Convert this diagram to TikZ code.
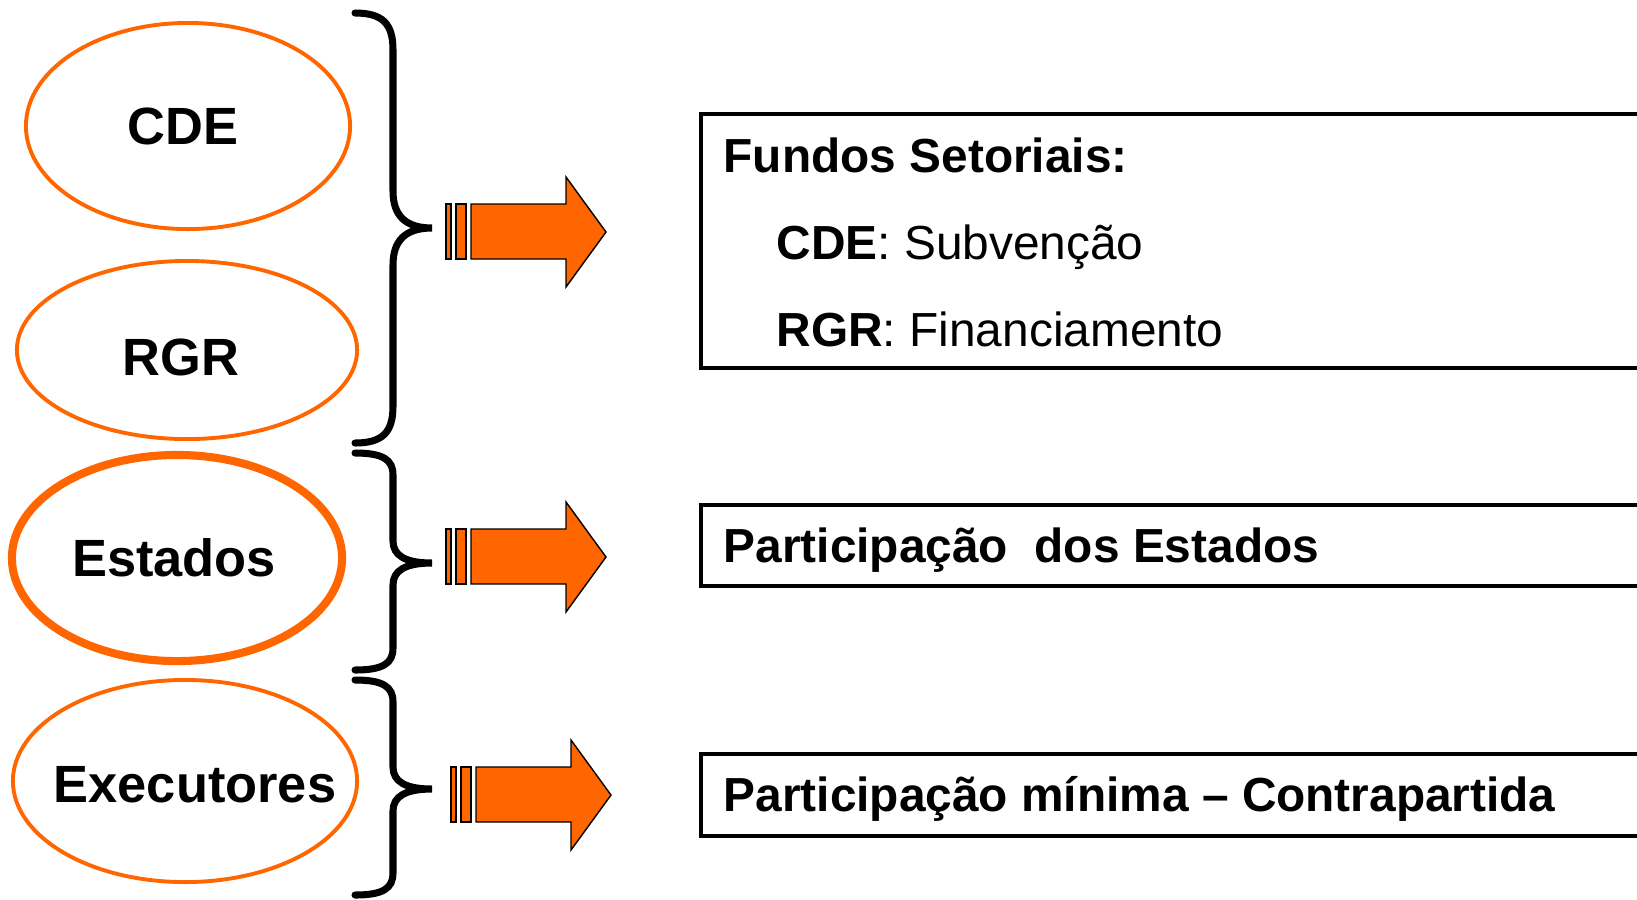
\documentclass[tikz,border=0pt]{standalone}
\usepackage{fontspec}
\setmainfont{Liberation Sans}
\usetikzlibrary{shapes.geometric}
\definecolor{laranja}{HTML}{FF6600}
\tikzset{
  oval/.style={ellipse, draw=laranja, line width=1.1pt, fill=white, inner sep=0pt,
  font=\fontsize{14.9}{18}\selectfont\bfseries},
  caixa/.style={draw=black, line width=1.2pt, rectangle, inner sep=0pt, anchor=north west},
  linha/.style={anchor=base west, inner sep=0pt, font=\fontsize{13.6}{16}\selectfont},
  chave/.style={draw=black, line width=2pt, line cap=round},
  bloco/.style={draw=black, fill=laranja, line width=0.4pt, line join=miter},
}
% text that does not widen the ellipse: x offset, y offset, text
\newcommand{\rotulo}[3]{\raisebox{#2}[\height][\depth]{\makebox[0pt]{\hspace*{#1}#3}}}
% brace: top y, tip y, bottom y, curve length
\newcommand{\chave}[4]{%
  \draw[chave] (355,#1) .. controls (383,#1) and (393,#1+0.3*#4) .. (393,#1+#4)
    -- (393,#2-#4) .. controls (393,#2-0.35*#4) and (405,#2) .. (432,#2)
    .. controls (405,#2) and (393,#2+0.35*#4) .. (393,#2+#4)
    -- (393,#3-#4) .. controls (393,#3-0.3*#4) and (383,#3) .. (355,#3);}
% block arrow with two stripes
\newcommand{\setagrossa}[2]{%
  \begin{scope}[shift={(#1,#2)}]
    \draw[bloco] (0,-28) rectangle (5,27);
    \draw[bloco] (10,-28) rectangle (20,27);
    \draw[bloco] (25,-28) -- (120,-28) -- (120,-55) -- (160,0) -- (120,55)
      -- (120,27) -- (25,27) -- cycle;
  \end{scope}}

\begin{document}
\begin{tikzpicture}[x=0.01cm, y=-0.01cm]
\useasboundingbox (0,0) rectangle (1637,899);

% Sources
\node[oval, minimum width=3.24cm, minimum height=2.06cm] (cde) at (188,126) {\rotulo{-0.1cm}{0pt}{CDE}};
\node[oval, minimum width=3.40cm, minimum height=1.78cm] (rgr) at (187,350) {\rotulo{-0.12cm}{-0.07cm}{RGR}};
\node[oval, line width=2.3pt, minimum width=3.30cm, minimum height=2.06cm] (estados) at (177,558) {\rotulo{-0.06cm}{0pt}{Estados}};
\node[oval, minimum width=3.44cm, minimum height=2.02cm] (executores) at (185,781) {\rotulo{0.2cm}{-0.04cm}{Executores}};

% Braces
\chave{13}{228}{443}{37}
\chave{453}{563}{670}{22}
\chave{680}{789}{895}{22}

% Arrows
\setagrossa{446}{232}
\setagrossa{446}{557}
\setagrossa{451}{795}

% Boxes (open to the right)
\node[caixa, minimum width=10cm, minimum height=2.54cm] (fundos) at (699,112) {};
\node[linha, font=\fontsize{13.6}{16}\selectfont\bfseries] (fundostit) at (723,172) {Fundos Setoriais:};
\node[linha] (cdeline) at (776,259) {\textbf{CDE}: Subvenção};
\node[linha] (rgrline) at (776,346) {\textbf{RGR}: Financiamento};

\node[caixa, minimum width=10cm, minimum height=0.81cm] (partest) at (699,503) {};
\node[linha, font=\fontsize{13.6}{16}\selectfont\bfseries] (partesttxt) at (723,562) {Participação\ \ dos Estados};

\node[caixa, minimum width=10cm, minimum height=0.82cm] (partmin) at (699,752) {};
\node[linha, font=\fontsize{13.6}{16}\selectfont\bfseries] (partmintxt) at (723,811) {Participação mínima – Contrapartida};

\end{tikzpicture}
\end{document}
